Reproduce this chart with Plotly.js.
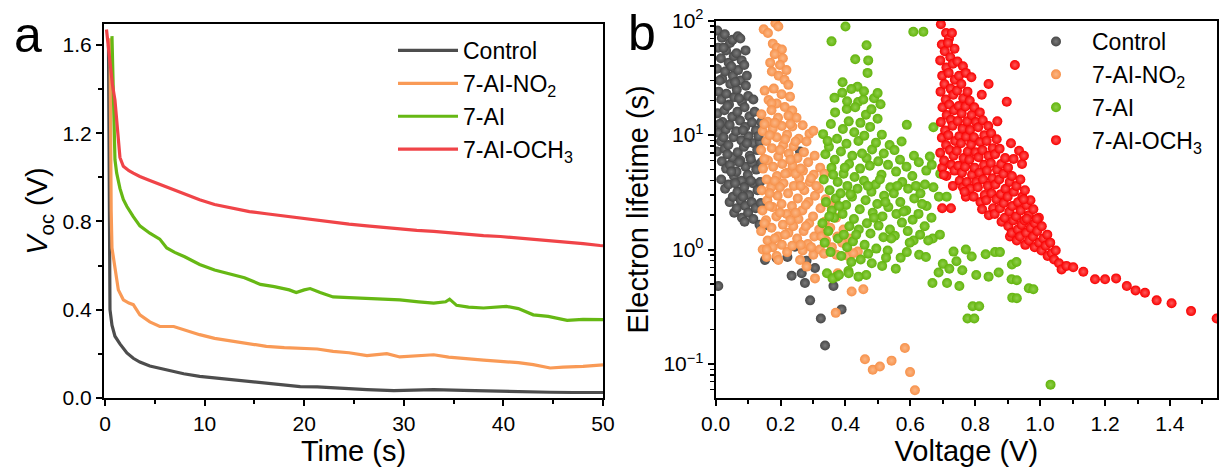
<!DOCTYPE html>
<html>
<head>
<meta charset="utf-8">
<script src="https://cdn.plot.ly/plotly-3.0.1.min.js"></script>
<style>html,body{margin:0;padding:0;background:#fff;}#chart{width:1221px;height:470px;}</style>
</head>
<body>
<div id="chart"></div>
<script>
// ---------- Panel a: Voc decay ----------
const seriesNames = ["Control", "7-AI-NO<sub>2</sub>", "7-AI", "7-AI-OCH<sub>3</sub>"];

const ctrlT = [0.35,0.42,0.5,0.7,1.0,1.5,2.2,2.84,3.5,4.5,5.5,6.5,7.9,9.5,11.2,12.9,14.6,16.2,18,19.6,21.3,23,26.3,29,31.3,33,36,39.7,42,44.7,47,50];
const ctrlV = [1.60,1.00,0.40,0.33,0.28,0.245,0.204,0.18,0.163,0.145,0.135,0.125,0.11,0.098,0.09,0.083,0.073,0.068,0.06,0.052,0.05,0.045,0.038,0.033,0.034,0.038,0.035,0.03,0.03,0.026,0.025,0.025];

const no2T = [0.5,0.55,0.62,0.7,1.0,1.34,1.84,2.4,2.84,3.5,4.5,5.5,6.9,7.9,9.5,11,12.9,14.5,16.2,18,19.6,21.3,22.9,24.5,26.3,28.3,29.6,31.5,33,34.5,36.3,38,39.7,41.5,43,44.7,46,48,50];
const no2V = [1.63,1.2,0.85,0.68,0.58,0.49,0.445,0.43,0.423,0.377,0.345,0.324,0.324,0.309,0.287,0.27,0.256,0.245,0.234,0.228,0.226,0.222,0.211,0.205,0.192,0.201,0.186,0.19,0.196,0.185,0.177,0.172,0.166,0.16,0.151,0.136,0.14,0.143,0.15];

const aiT = [0.7,0.8,0.9,1.0,1.17,1.34,1.5,1.84,2.2,2.84,3.5,4.5,5.5,6.2,7,8,9.5,11,12.9,14,15.6,17,18.5,19.2,20,20.6,21.6,22.9,24.5,26.3,28,29.6,31.5,33,34.2,34.6,35.3,36.5,38,40.3,41.5,43,44.5,46.4,48,50];
const aiV = [1.64,1.45,1.25,1.08,1.02,0.98,0.95,0.90,0.868,0.822,0.78,0.747,0.72,0.68,0.66,0.64,0.605,0.58,0.56,0.545,0.515,0.505,0.49,0.478,0.49,0.496,0.478,0.458,0.455,0.452,0.447,0.445,0.436,0.43,0.436,0.448,0.42,0.412,0.408,0.415,0.405,0.377,0.37,0.352,0.356,0.355];

const ochT = [0.15,0.3,0.5,0.75,1.0,1.15,1.3,1.5,1.84,2.4,2.84,3.5,4.5,6,7.2,8.3,9.5,11,12.9,14.5,16.2,18,19.6,21.3,22.9,24.5,26.3,28,29.6,31.3,33,34.7,36.3,38,39.7,41.3,43,44.7,46.4,48,49.7,50];
const ochV = [1.67,1.6,1.5,1.42,1.35,1.26,1.17,1.09,1.05,1.03,1.019,1.004,0.986,0.96,0.94,0.92,0.898,0.877,0.86,0.845,0.835,0.825,0.815,0.807,0.795,0.788,0.78,0.772,0.765,0.76,0.755,0.748,0.74,0.736,0.732,0.726,0.72,0.714,0.709,0.70,0.691,0.69];

// ---------- Panel b: electron lifetime, [voltage (V), lifetime (s)] ----------
const ctrlPts = [
 [0.005,82],[0.008,58],[0.004,38],[0.009,24],[0.005,15.5],[0.008,10.5],[0.004,7.2],
 [0.019,71],[0.016,47],[0.020,31],[0.017,20.5],[0.021,13],[0.016,8.8],[0.019,5.9],[0.017,4.1],
 [0.028,76],[0.032,55],[0.029,36],[0.033,23],[0.027,16.5],[0.031,11.2],[0.028,7.6],[0.032,5.1],[0.029,3.4],
 [0.044,64],[0.040,43],[0.045,28],[0.041,18.5],[0.043,12.3],[0.039,8.2],[0.044,5.5],[0.040,3.7],[0.043,2.6],
 [0.052,68],[0.056,49],[0.053,33],[0.057,21.5],[0.051,14.5],[0.055,9.6],[0.052,6.4],[0.056,4.4],[0.053,2.9],[0.057,2.1],
 [0.068,73],[0.064,52],[0.069,37],[0.065,25],[0.067,16],[0.063,10.8],[0.068,7.1],[0.064,4.8],[0.067,3.2],[0.065,2.3],
 [0.076,70],[0.080,45],[0.077,30],[0.081,19.5],[0.075,13.4],[0.079,9],[0.076,6],[0.080,4],[0.077,2.7],[0.081,1.9],
 [0.092,55],[0.088,41],[0.093,27],[0.089,17.5],[0.091,11.8],[0.087,7.9],[0.092,5.3],[0.088,3.5],[0.091,2.4],[0.089,1.75],
 [0.100,22],[0.104,14.6],[0.101,9.8],[0.105,6.6],[0.099,4.5],[0.103,3.0],[0.100,2.1],
 [0.116,20.5],[0.112,12.9],[0.117,8.5],[0.113,5.7],[0.115,3.8],[0.111,2.6],[0.116,1.85],
 [0.124,11],[0.128,7.4],[0.125,5.0],[0.129,3.3],[0.123,2.3],
 [0.140,13],[0.136,8.7],[0.141,5.8],[0.137,3.9],[0.139,2.55],[0.135,1.65],
 [0.012,30],[0.024,58],[0.036,18],[0.048,40],[0.06,29],[0.072,21],[0.084,11],[0.096,33],[0.108,4.0],[0.12,16],
 [0.132,9.8],[0.06,3.8],[0.084,2.9],[0.012,12.5],[0.024,9.6],[0.036,6.8],[0.048,4.8],[0.072,5.8],[0.096,8.5],[0.108,6.2],
 [0.008,0.48],[0.152,0.81],[0.188,0.84],[0.221,0.86],[0.234,0.59],[0.265,0.62],[0.275,0.51],[0.306,0.69],[0.291,0.36],
 [0.324,0.25],[0.337,0.145],[0.388,0.30],[0.363,0.48],[0.244,1.06],[0.147,1.6],[0.26,7.2],[0.28,0.8]
];

const no2Pts = [
 [0.148,84],[0.161,78],[0.184,95],[0.193,89],[0.176,63],[0.188,58],[0.204,56],[0.182,51],[0.207,47],[0.168,43],
 [0.198,41],[0.218,37],[0.173,36],[0.194,33],[0.212,30.5],[0.224,27.5],[0.151,24.5],[0.179,25.5],[0.203,22.8],[0.229,21.7],
 [0.163,20.3],[0.188,18.9],[0.213,17.6],[0.236,16.4],[0.249,14.2],[0.172,19],
 [0.141,15.2],[0.145,10.8],[0.140,7.4],[0.146,5.1],[0.142,3.3],[0.144,2.2],[0.140,1.45],[0.145,1.0],
 [0.160,13.1],[0.156,8.9],[0.161,6.0],[0.157,4.1],[0.159,2.7],[0.155,1.8],[0.160,1.2],[0.157,0.86],
 [0.172,16.5],[0.176,11.4],[0.173,7.7],[0.177,5.3],[0.171,3.5],[0.175,2.35],[0.172,1.55],[0.176,1.05],
 [0.192,14.2],[0.188,9.6],[0.193,6.5],[0.189,4.4],[0.191,2.95],[0.187,1.95],[0.192,1.3],[0.188,0.88],
 [0.204,12.0],[0.208,8.2],[0.205,5.6],[0.209,3.8],[0.203,2.5],[0.207,1.65],[0.204,1.1],
 [0.224,14.8],[0.220,10.1],[0.225,6.9],[0.221,4.7],[0.223,3.1],[0.219,2.05],[0.224,1.4],[0.220,0.95],
 [0.236,11.9],[0.240,8.0],[0.237,5.4],[0.241,3.6],[0.235,2.4],[0.239,1.6],[0.236,1.08],
 [0.256,9.3],[0.252,6.3],[0.257,4.2],[0.253,2.8],[0.255,1.85],[0.251,1.25],
 [0.268,12.2],[0.272,7.1],[0.269,4.9],[0.273,3.3],[0.267,2.2],[0.271,1.45],[0.268,0.98],
 [0.289,10.3],[0.285,5.8],[0.290,3.9],[0.286,2.6],[0.288,1.7],[0.284,1.12],
 [0.301,10.9],[0.305,6.6],[0.302,4.5],[0.306,2.95],[0.300,1.95],[0.304,1.3],[0.301,0.9],
 [0.322,5.2],[0.318,3.4],[0.323,2.3],[0.319,1.5],[0.321,1.0],
 [0.335,4.6],[0.339,2.75],[0.336,1.75],[0.340,1.2],[0.334,0.92],
 [0.357,2.4],[0.353,1.55],[0.358,1.05],
 [0.371,1.9],[0.375,1.3],[0.372,0.9],[0.376,0.62],
 [0.394,1.5],[0.390,1.15],[0.412,1.25],[0.408,0.88],[0.438,0.96],
 [0.15,12.5],[0.166,10],[0.182,12.8],[0.198,7.4],[0.214,9.2],[0.23,6.1],[0.246,4.6],[0.262,3.6],[0.278,2.45],[0.294,4.2],
 [0.31,3.6],[0.326,1.3],[0.15,6.2],[0.166,3.1],[0.182,4.0],[0.198,2.1],[0.214,1.35],[0.23,1.8],[0.246,2.1],[0.262,1.1],
 [0.278,1.6],[0.294,1.05],[0.15,1.7],[0.166,2.4],[0.182,1.25],[0.198,3.5],[0.214,4.6],[0.23,12.5],[0.246,8.8],[0.262,5.1],[0.28,8.8],
 [0.26,0.81],[0.28,0.71],[0.306,0.56],[0.419,0.43],[0.455,0.45],[0.37,0.28],[0.46,0.11],[0.484,0.089],[0.506,0.095],
 [0.542,0.107],[0.583,0.138],[0.599,0.085],[0.614,0.059],[0.193,0.81],[0.157,1.0],[0.424,0.93]
];

const aiPts = [
 [0.331,10.2],[0.338,6.8],[0.333,4.1],[0.340,2.6],[0.329,1.7],[0.336,1.15],[0.343,0.62],
 [0.355,12.5],[0.349,7.9],[0.357,5.2],[0.351,3.3],[0.358,2.2],[0.347,1.45],[0.354,0.95],
 [0.368,15.8],[0.374,9.3],[0.367,6.1],[0.376,3.9],[0.370,2.8],[0.365,1.9],[0.377,1.25],[0.372,0.58],
 [0.392,11.3],[0.386,7.2],[0.394,4.6],[0.385,3.1],[0.391,2.05],[0.395,1.35],[0.387,0.88],
 [0.404,16.9],[0.410,13.2],[0.403,8.4],[0.411,5.6],[0.406,3.6],[0.402,2.45],[0.412,1.6],[0.405,1.05],[0.409,0.65],
 [0.427,10.6],[0.421,6.6],[0.428,4.3],[0.420,2.9],[0.426,1.85],[0.423,1.18],
 [0.439,19.5],[0.446,12.8],[0.440,8.9],[0.445,5.1],[0.437,3.4],[0.444,2.25],[0.441,1.5],[0.447,0.82],
 [0.463,15.1],[0.458,9.9],[0.465,6.3],[0.457,4.0],[0.462,2.7],[0.466,1.7],[0.459,1.1],[0.464,0.6],
 [0.476,11.8],[0.482,7.5],[0.475,5.4],[0.480,3.2],[0.484,2.1],[0.477,1.38],[0.481,0.76],
 [0.499,13.9],[0.494,8.6],[0.501,5.9],[0.493,3.7],[0.498,2.5],[0.502,1.62],[0.495,1.02],
 [0.512,10.1],[0.518,6.9],[0.511,4.5],[0.519,2.95],[0.514,1.95],[0.517,1.28],[0.513,0.72],
 [0.536,8.2],[0.531,5.5],[0.538,3.5],[0.532,2.35],[0.537,1.5],[0.530,0.98],
 [0.551,7.4],[0.556,4.8],[0.549,3.1],[0.557,2.05],[0.552,1.32],[0.555,0.68],
 [0.573,8.8],[0.568,6.1],[0.575,3.9],[0.569,2.6],[0.574,1.72],[0.570,0.85],
 [0.588,5.3],[0.593,3.4],[0.587,2.2],[0.592,1.45],[0.589,0.95],
 [0.611,6.6],[0.606,4.4],[0.612,2.8],[0.607,1.82],[0.610,1.2],
 [0.626,5.8],[0.631,3.1],[0.625,2.05],[0.630,1.35],[0.627,0.9],
 [0.649,4.9],[0.645,3.7],[0.650,2.4],[0.644,1.6],[0.648,0.86],
 [0.666,5.5],[0.671,3.5],[0.665,1.9],[0.669,1.25],
 [0.692,4.6],[0.688,2.9],[0.691,1.35],[0.687,0.63],[0.712,2.9],[0.713,0.51],
 [0.345,8.9],[0.362,4.5],[0.38,2.4],[0.398,5.2],[0.415,3.05],[0.433,1.35],[0.451,6.9],[0.469,3.6],[0.488,1.9],[0.506,4.1],
 [0.523,2.6],[0.541,1.25],[0.56,3.6],[0.579,2.15],[0.598,1.15],[0.617,3.6],[0.636,2.5],[0.655,1.2],[0.35,1.95],[0.418,0.78],
 [0.47,0.92],[0.525,0.85],[0.43,17.5],[0.455,20.5],[0.39,23.5],[0.48,16.8],
 [0.4,89],[0.357,66],[0.465,61],[0.43,46],[0.47,45],[0.468,35],[0.391,29],[0.437,26.5],[0.457,24.2],[0.418,25.3],
 [0.488,21],[0.508,18.6],[0.366,21.2],[0.405,19.8],[0.499,23.3],[0.609,80],[0.64,80],[0.589,12.3],[0.671,11.7],[0.66,6.5],
 [0.751,0.48],[0.668,0.51],[0.733,0.96],[0.771,1.0],[0.789,0.87],[0.832,0.91],[0.861,0.95],[0.913,0.74],[0.912,0.55],[0.965,0.46],
 [0.914,0.38],[0.792,0.32],[0.776,0.25],[0.742,0.79],[0.803,0.6],[0.841,0.58],[0.872,0.63],[0.979,0.45],[0.928,0.376],[0.928,0.54],
 [0.927,0.78],[0.876,0.95],[0.812,0.32],[0.797,0.25],[1.032,0.066],[0.7,0.75],[0.72,0.68],[0.76,0.66],[0.36,0.56],[0.38,0.6],[0.41,0.62],[0.44,0.58]
];

const ochPts = [
 [0.694,93],[0.697,62],[0.692,45],[0.698,33],[0.693,24],[0.699,17.5],[0.694,13],[0.697,9.5],[0.692,7],[0.698,5.2],
 [0.710,78],[0.706,54],[0.711,39],[0.705,28],[0.709,20.5],[0.712,15],[0.707,11],[0.710,8.2],[0.704,6.0],[0.711,4.4],
 [0.719,70],[0.723,48],[0.718,35],[0.724,25.5],[0.720,18.5],[0.725,13.6],[0.717,10],[0.722,7.4],[0.726,5.5],
 [0.736,57],[0.731,42],[0.737,30.5],[0.732,22.5],[0.735,16.5],[0.730,12.1],[0.738,8.9],[0.733,6.6],[0.736,4.9],[0.731,3.6],
 [0.745,44],[0.750,33],[0.744,24.5],[0.749,18],[0.746,13.3],[0.751,9.8],[0.743,7.3],[0.748,5.4],[0.752,4.0],
 [0.762,40],[0.757,28],[0.763,21],[0.758,15.5],[0.761,11.4],[0.756,8.5],[0.764,6.3],[0.759,4.7],[0.762,3.5],
 [0.771,35],[0.776,24],[0.770,17.8],[0.775,13.2],[0.772,9.7],[0.777,7.2],[0.769,5.3],[0.774,3.9],[0.771,2.9],
 [0.788,32],[0.783,20],[0.789,15],[0.784,11.1],[0.787,8.3],[0.782,6.1],[0.790,4.5],[0.785,3.4],
 [0.797,17.5],[0.802,13],[0.796,9.6],[0.801,7.1],[0.798,5.2],[0.803,3.9],[0.795,2.9],
 [0.814,15.8],[0.809,11.7],[0.815,8.7],[0.810,6.4],[0.813,4.7],[0.808,3.5],[0.816,2.6],
 [0.823,13.5],[0.828,10],[0.822,7.4],[0.827,5.5],[0.824,4.1],[0.829,3.0],[0.821,2.25],
 [0.840,12],[0.835,8.9],[0.841,6.6],[0.836,4.9],[0.839,3.6],[0.834,2.7],[0.842,2.0],
 [0.849,10.4],[0.854,7.7],[0.848,5.7],[0.853,4.2],[0.850,3.1],[0.855,2.3],
 [0.866,9.2],[0.861,6.8],[0.867,5.0],[0.862,3.7],[0.865,2.75],[0.860,2.05],
 [0.875,7.6],[0.880,5.6],[0.874,4.1],[0.879,3.05],[0.876,2.3],[0.881,1.75],
 [0.892,6.3],[0.887,4.6],[0.893,3.4],[0.888,2.55],[0.891,1.9],
 [0.901,5.2],[0.906,3.9],[0.900,2.9],[0.905,2.15],[0.902,1.6],[0.907,1.3],
 [0.918,6.2],[0.913,4.4],[0.919,3.2],[0.914,2.4],[0.917,1.8],[0.912,1.4],
 [0.927,3.6],[0.932,2.6],[0.926,1.95],[0.931,1.5],[0.928,1.2],
 [0.944,5.6],[0.939,4.1],[0.945,2.9],[0.940,2.2],[0.943,1.65],[0.938,1.3],
 [0.953,3.3],[0.958,2.45],[0.952,1.8],[0.957,1.4],[0.954,1.1],
 [0.970,2.7],[0.965,2.0],[0.971,1.55],[0.966,1.2],
 [0.979,2.25],[0.984,1.7],[0.978,1.3],[0.983,1.05],
 [0.996,1.9],[0.991,1.45],[0.997,1.15],
 [1.005,1.6],[1.010,1.25],[1.004,0.98],
 [1.022,1.35],[1.017,1.08],[1.023,0.88],
 [1.031,1.15],[1.036,0.93],[1.048,0.98],[1.043,0.82],[1.058,0.76],
 [0.922,41],[0.841,28],[0.897,19.6],[0.82,22.5],[0.868,13.2],[0.91,8.5],[0.935,7.3],[0.95,6.6],[0.725,2.3],[0.767,3.2],
 [0.703,4.5],[0.698,2.3],[0.949,2.75],[0.959,1.86],[0.99,1.86],[0.728,78],[0.716,64],
 [1.066,0.67],[1.081,0.72],[1.102,0.70],[1.133,0.64],[1.169,0.55],[1.2,0.55],[1.234,0.56],[1.267,0.48],[1.294,0.44],
 [1.323,0.42],[1.359,0.36],[1.405,0.34],[1.465,0.29],[1.544,0.25]
];

// ---------- styles ----------
const lineColors = ["#4d4d4d", "#f99a56", "#66b814", "#f04448"];
const dotColors = ["#474747", "#f7914a", "#62b40c", "#f80000"];
const dotLight = ["#7a7a7a", "#fbb684", "#8fcf4a", "#ff5a5a"];
const FONT = "Liberation Sans, Arial, sans-serif";

const lineT = [ctrlT, no2T, aiT, ochT];
const lineV = [ctrlV, no2V, aiV, ochV];
const dotPts = [ctrlPts, no2Pts, aiPts, ochPts];

const traces = [];
for (let i = 0; i < 4; i++) {
  traces.push({
    type: "scatter", mode: "lines", x: lineT[i], y: lineV[i], name: seriesNames[i],
    xaxis: "x", yaxis: "y", legend: "legend",
    line: {color: lineColors[i], width: 3.2}
  });
}
for (let i = 0; i < 4; i++) {
  traces.push({
    type: "scatter", mode: "markers",
    x: dotPts[i].map(p => p[0]), y: dotPts[i].map(p => p[1]), name: seriesNames[i],
    xaxis: "x2", yaxis: "y2", legend: "legend2",
    marker: {color: dotColors[i], size: 10, gradient: {type: "radial", color: dotLight[i]}}
  });
}

const W = 1221, H = 470;
const px = v => v / W, py = v => 1 - v / H;

const axisCommon = {
  showline: true, linecolor: "#000", linewidth: 2, mirror: true,
  ticks: "outside", tickcolor: "#000", tickwidth: 2, ticklen: 6,
  showgrid: false, zeroline: false,
  tickfont: {family: FONT, size: 21, color: "#000"},
  automargin: false
};

const layout = {
  width: W, height: H,
  margin: {l: 0, r: 0, t: 0, b: 0},
  paper_bgcolor: "#fff", plot_bgcolor: "#fff",
  font: {family: FONT, color: "#000"},
  showlegend: true,
  xaxis: Object.assign({}, axisCommon, {
    domain: [px(104), px(603)], range: [-0.1, 50], anchor: "y",
    tickvals: [0, 10, 20, 30, 40, 50],
    minor: {ticks: "outside", ticklen: 4, tickwidth: 2, tickcolor: "#000", dtick: 5, tick0: 0},
    title: {text: "Time (s)", font: {family: FONT, size: 29}, standoff: 6}
  }),
  yaxis: Object.assign({}, axisCommon, {
    domain: [1 - 398 / H, 1 - 24 / H], range: [0, 1.695], anchor: "x",
    tickvals: [0, 0.4, 0.8, 1.2, 1.6], tickformat: ".1f",
    minor: {ticks: "outside", ticklen: 4, tickwidth: 2, tickcolor: "#000", dtick: 0.2, tick0: 0},
    title: {text: "<i>V</i><sub>oc</sub> (V)", font: {family: FONT, size: 29}, standoff: 6}
  }),
  xaxis2: Object.assign({}, axisCommon, {
    domain: [px(715.7), px(1217)], range: [0, 1.545], anchor: "y2",
    tickvals: [0, 0.2, 0.4, 0.6, 0.8, 1.0, 1.2, 1.4], tickformat: ".1f",
    minor: {ticks: "outside", ticklen: 4, tickwidth: 2, tickcolor: "#000", dtick: 0.1, tick0: 0},
    title: {text: "Voltage (V)", font: {family: FONT, size: 29}, standoff: 6}
  }),
  yaxis2: Object.assign({}, axisCommon, {
    domain: [1 - 398 / H, 1 - 20.7 / H], type: "log", range: [-1.297, 2], anchor: "x2",
    tickvals: [0.1, 1, 10, 100],
    ticktext: ["10<sup>−1</sup>", "10<sup>0</sup>", "10<sup>1</sup>", "10<sup>2</sup>"],
    minor: {ticks: "outside", ticklen: 4, tickwidth: 1.5, tickcolor: "#000",
      tickvals: [0.06,0.07,0.08,0.09,0.2,0.3,0.4,0.5,0.6,0.7,0.8,0.9,2,3,4,5,6,7,8,9,20,30,40,50,60,70,80,90]},
    title: {text: "Electron lifetime (s)", font: {family: FONT, size: 29}, standoff: 6}
  }),
  legend: {
    x: px(393), y: py(29), xanchor: "left", yanchor: "top",
    bgcolor: "rgba(0,0,0,0)", borderwidth: 0, itemwidth: 60,
    font: {family: FONT, size: 23, color: "#000"},
    tracegroupgap: 0
  },
  legend2: {
    x: px(1020), y: py(20), xanchor: "left", yanchor: "top",
    bgcolor: "rgba(0,0,0,0)", borderwidth: 0, itemwidth: 62,
    font: {family: FONT, size: 23, color: "#000"},
    tracegroupgap: 0
  },
  annotations: [
    {text: "a", xref: "paper", yref: "paper", x: px(12), y: py(35), xanchor: "left", yanchor: "middle",
     showarrow: false, font: {family: FONT, size: 50, color: "#000"}},
    {text: "b", xref: "paper", yref: "paper", x: px(626), y: py(33), xanchor: "left", yanchor: "middle",
     showarrow: false, font: {family: FONT, size: 50, color: "#000"}}
  ]
};

Plotly.newPlot("chart", traces, layout, {displayModeBar: false, staticPlot: true});
</script>
</body>
</html>
